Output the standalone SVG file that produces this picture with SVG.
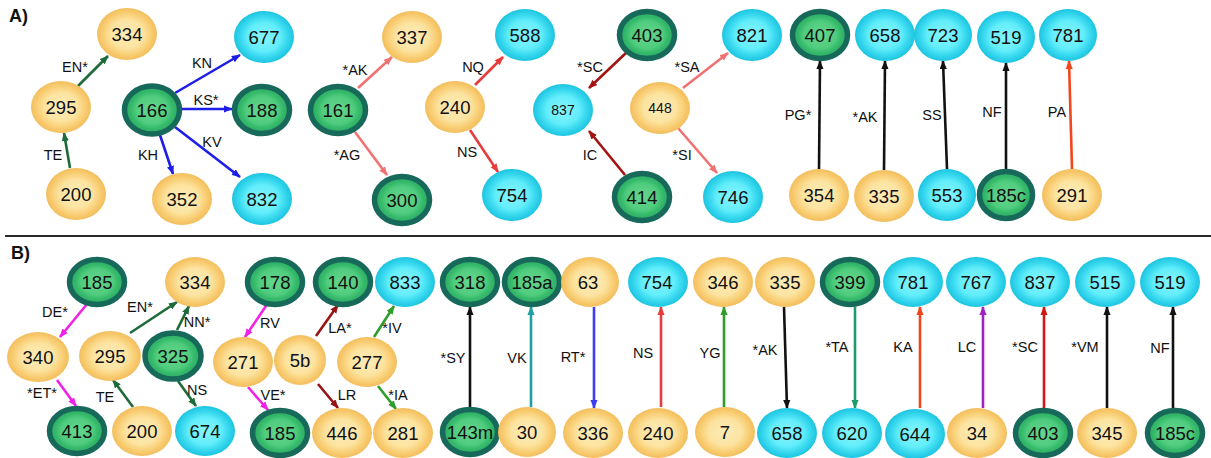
<svg xmlns="http://www.w3.org/2000/svg" width="1211" height="458" viewBox="0 0 1211 458">
  <defs>
    <radialGradient id="gy" cx="50%" cy="50%" r="50%">
      <stop offset="0" stop-color="#FDECB8"/>
      <stop offset="0.55" stop-color="#FCE3A0"/>
      <stop offset="0.72" stop-color="#FAD582"/>
      <stop offset="0.86" stop-color="#F7C96C"/>
      <stop offset="1" stop-color="#F3BE5E"/>
    </radialGradient>
    <radialGradient id="gc" cx="50%" cy="50%" r="50%">
      <stop offset="0" stop-color="#86F5FC"/>
      <stop offset="0.55" stop-color="#62EDFA"/>
      <stop offset="0.74" stop-color="#3EDCF1"/>
      <stop offset="1" stop-color="#1CC4E0"/>
    </radialGradient>
    <radialGradient id="gg" cx="50%" cy="50%" r="50%">
      <stop offset="0" stop-color="#66D68E"/>
      <stop offset="0.58" stop-color="#50CC7E"/>
      <stop offset="0.76" stop-color="#36BA6B"/>
      <stop offset="1" stop-color="#2BA963"/>
    </radialGradient>
    <marker id="m-dg" viewBox="0 0 10 8" refX="9" refY="4" markerWidth="9" markerHeight="7.5" markerUnits="userSpaceOnUse" orient="auto"><path d="M0,0L10,4L0,8z" fill="#1E6B3A"/></marker>
    <marker id="m-bl" viewBox="0 0 10 8" refX="9" refY="4" markerWidth="9" markerHeight="7.5" markerUnits="userSpaceOnUse" orient="auto"><path d="M0,0L10,4L0,8z" fill="#1E1EE6"/></marker>
    <marker id="m-sa" viewBox="0 0 10 8" refX="9" refY="4" markerWidth="9" markerHeight="7.5" markerUnits="userSpaceOnUse" orient="auto"><path d="M0,0L10,4L0,8z" fill="#F07272"/></marker>
    <marker id="m-rd" viewBox="0 0 10 8" refX="9" refY="4" markerWidth="9" markerHeight="7.5" markerUnits="userSpaceOnUse" orient="auto"><path d="M0,0L10,4L0,8z" fill="#E83C3C"/></marker>
    <marker id="m-dr" viewBox="0 0 10 8" refX="9" refY="4" markerWidth="9" markerHeight="7.5" markerUnits="userSpaceOnUse" orient="auto"><path d="M0,0L10,4L0,8z" fill="#A51212"/></marker>
    <marker id="m-k" viewBox="0 0 10 8" refX="9" refY="4" markerWidth="9" markerHeight="7.5" markerUnits="userSpaceOnUse" orient="auto"><path d="M0,0L10,4L0,8z" fill="#111"/></marker>
    <marker id="m-or" viewBox="0 0 10 8" refX="9" refY="4" markerWidth="9" markerHeight="7.5" markerUnits="userSpaceOnUse" orient="auto"><path d="M0,0L10,4L0,8z" fill="#F2461E"/></marker>
    <marker id="m-mg" viewBox="0 0 10 8" refX="9" refY="4" markerWidth="9" markerHeight="7.5" markerUnits="userSpaceOnUse" orient="auto"><path d="M0,0L10,4L0,8z" fill="#F022E6"/></marker>
    <marker id="m-mr" viewBox="0 0 10 8" refX="9" refY="4" markerWidth="9" markerHeight="7.5" markerUnits="userSpaceOnUse" orient="auto"><path d="M0,0L10,4L0,8z" fill="#961414"/></marker>
    <marker id="m-gr" viewBox="0 0 10 8" refX="9" refY="4" markerWidth="9" markerHeight="7.5" markerUnits="userSpaceOnUse" orient="auto"><path d="M0,0L10,4L0,8z" fill="#2E9E2A"/></marker>
    <marker id="m-tl" viewBox="0 0 10 8" refX="9" refY="4" markerWidth="9" markerHeight="7.5" markerUnits="userSpaceOnUse" orient="auto"><path d="M0,0L10,4L0,8z" fill="#1E9FA2"/></marker>
    <marker id="m-b2" viewBox="0 0 10 8" refX="9" refY="4" markerWidth="9" markerHeight="7.5" markerUnits="userSpaceOnUse" orient="auto"><path d="M0,0L10,4L0,8z" fill="#3C3CF0"/></marker>
    <marker id="m-tg" viewBox="0 0 10 8" refX="9" refY="4" markerWidth="9" markerHeight="7.5" markerUnits="userSpaceOnUse" orient="auto"><path d="M0,0L10,4L0,8z" fill="#1E9A6C"/></marker>
    <marker id="m-pu" viewBox="0 0 10 8" refX="9" refY="4" markerWidth="9" markerHeight="7.5" markerUnits="userSpaceOnUse" orient="auto"><path d="M0,0L10,4L0,8z" fill="#A020C4"/></marker>
    <marker id="m-r2" viewBox="0 0 10 8" refX="9" refY="4" markerWidth="9" markerHeight="7.5" markerUnits="userSpaceOnUse" orient="auto"><path d="M0,0L10,4L0,8z" fill="#D01818"/></marker>
  </defs>
  <style>
    .ny { fill: url(#gy); }
    .nc { fill: url(#gc); }
    .ng { fill: url(#gg); stroke: #17695A; stroke-width: 5.5; }
    .t { font-family: "Liberation Sans", Arial, sans-serif; font-size: 18.5px; text-anchor: middle; fill: #111; }
    .ts { font-size: 14px; }
    .l { font-family: "Liberation Sans", Arial, sans-serif; font-size: 14.5px; text-anchor: middle; fill: #111; }
    .h { font-family: "Liberation Sans", Arial, sans-serif; font-size: 18px; font-weight: bold; fill: #111; }
    .e { fill: none; stroke-width: 2.6; }
    .dg { stroke: #1E6B3A; marker-end: url(#m-dg); }
    .bl { stroke: #1E1EE6; marker-end: url(#m-bl); }
    .sa { stroke: #F07272; marker-end: url(#m-sa); }
    .rd { stroke: #E83C3C; marker-end: url(#m-rd); }
    .dr { stroke: #A51212; marker-end: url(#m-dr); }
    .k { stroke: #111; marker-end: url(#m-k); }
    .or { stroke: #F2461E; marker-end: url(#m-or); }
    .mg { stroke: #F022E6; marker-end: url(#m-mg); }
    .mr { stroke: #961414; marker-end: url(#m-mr); }
    .gr { stroke: #2E9E2A; marker-end: url(#m-gr); }
    .tl { stroke: #1E9FA2; marker-end: url(#m-tl); }
    .b2 { stroke: #3C3CF0; marker-end: url(#m-b2); }
    .tg { stroke: #1E9A6C; marker-end: url(#m-tg); }
    .pu { stroke: #A020C4; marker-end: url(#m-pu); }
    .r2 { stroke: #D01818; marker-end: url(#m-r2); }
  </style>

  <rect width="1211" height="458" fill="#fff"/>

  <!-- panel headings and divider -->
  <text class="h" x="9" y="22">A)</text>
  <text class="h" x="11" y="259">B)</text>
  <line x1="5" y1="236" x2="1211" y2="236" stroke="#2a2a2a" stroke-width="2"/>

  <!-- connectors -->
  <g id="connectors">
    <!-- panel A -->
    <line class="e dg" x1="70" y1="168" x2="64" y2="133"/>
    <line class="e dg" x1="78" y1="86" x2="108" y2="56"/>
    <line class="e bl" x1="175" y1="93" x2="240" y2="55"/>
    <line class="e bl" x1="182" y1="109" x2="232" y2="109"/>
    <line class="e bl" x1="175" y1="127" x2="240" y2="177"/>
    <line class="e bl" x1="160" y1="135" x2="173" y2="174"/>
    <line class="e sa" x1="358" y1="88" x2="392" y2="57"/>
    <line class="e sa" x1="355" y1="132" x2="387" y2="175"/>
    <line class="e rd" x1="475" y1="85" x2="503" y2="57"/>
    <line class="e rd" x1="470" y1="130" x2="498" y2="172"/>
    <line class="e dr" x1="627" y1="52" x2="589" y2="88"/>
    <line class="e dr" x1="625" y1="175" x2="589" y2="131"/>
    <line class="e sa" x1="683" y1="88" x2="728" y2="53"/>
    <line class="e sa" x1="678" y1="128" x2="717" y2="173"/>
    <line class="e k" x1="819" y1="169" x2="820" y2="61"/>
    <line class="e k" x1="884" y1="170" x2="885" y2="61"/>
    <line class="e k" x1="947" y1="169" x2="943" y2="61"/>
    <line class="e k" x1="1006" y1="169" x2="1006" y2="63"/>
    <line class="e or" x1="1072" y1="169" x2="1069" y2="61"/>
    <!-- panel B -->
    <line class="e mg" x1="87" y1="304" x2="60" y2="337"/>
    <line class="e mg" x1="57" y1="380" x2="76" y2="406"/>
    <line class="e dg" x1="130" y1="333" x2="177" y2="302"/>
    <line class="e dg" x1="177" y1="330" x2="189" y2="306"/>
    <line class="e dg" x1="133" y1="407" x2="113" y2="380"/>
    <line class="e dg" x1="178" y1="381" x2="196" y2="406"/>
    <line class="e mg" x1="268" y1="303" x2="245" y2="337"/>
    <line class="e mg" x1="248" y1="387" x2="268" y2="410"/>
    <line class="e mr" x1="316" y1="336" x2="338" y2="305"/>
    <line class="e mr" x1="318" y1="384" x2="338" y2="408"/>
    <line class="e gr" x1="374" y1="337" x2="394" y2="306"/>
    <line class="e gr" x1="378" y1="386" x2="396" y2="409"/>
    <line class="e k" x1="470" y1="407" x2="470" y2="307"/>
    <line class="e tl" x1="531" y1="407" x2="531" y2="307"/>
    <line class="e b2" x1="594" y1="307" x2="594" y2="408"/>
    <line class="e rd" x1="661" y1="407" x2="661" y2="307"/>
    <line class="e gr" x1="724" y1="407" x2="724" y2="307"/>
    <line class="e k" x1="784" y1="307" x2="787" y2="408"/>
    <line class="e tg" x1="855" y1="307" x2="855" y2="408"/>
    <line class="e or" x1="920" y1="408" x2="920" y2="307"/>
    <line class="e pu" x1="983" y1="408" x2="983" y2="307"/>
    <line class="e r2" x1="1044" y1="408" x2="1044" y2="307"/>
    <line class="e k" x1="1107" y1="408" x2="1107" y2="307"/>
    <line class="e k" x1="1173" y1="408" x2="1173" y2="307"/>
  </g>

  <!-- connector labels -->
  <g id="connector-labels">
    <text class="l" x="75" y="72">EN*</text>
    <text class="l" x="53" y="160">TE</text>
    <text class="l" x="202" y="68">KN</text>
    <text class="l" x="206" y="105">KS*</text>
    <text class="l" x="212" y="147">KV</text>
    <text class="l" x="148" y="160">KH</text>
    <text class="l" x="355" y="75">*AK</text>
    <text class="l" x="347" y="160">*AG</text>
    <text class="l" x="473" y="72">NQ</text>
    <text class="l" x="467" y="157">NS</text>
    <text class="l" x="590" y="72">*SC</text>
    <text class="l" x="590" y="160">IC</text>
    <text class="l" x="687" y="72">*SA</text>
    <text class="l" x="682" y="160">*SI</text>
    <text class="l" x="798" y="120">PG*</text>
    <text class="l" x="865" y="122">*AK</text>
    <text class="l" x="932" y="120">SS</text>
    <text class="l" x="992" y="117">NF</text>
    <text class="l" x="1057" y="117">PA</text>

    <text class="l" x="55" y="317">DE*</text>
    <text class="l" x="140" y="312">EN*</text>
    <text class="l" x="197" y="327">NN*</text>
    <text class="l" x="42" y="398">*ET*</text>
    <text class="l" x="105" y="402">TE</text>
    <text class="l" x="197" y="395">NS</text>
    <text class="l" x="270" y="328">RV</text>
    <text class="l" x="273" y="400">VE*</text>
    <text class="l" x="340" y="333">LA*</text>
    <text class="l" x="347" y="400">LR</text>
    <text class="l" x="392" y="333">*IV</text>
    <text class="l" x="398" y="400">*IA</text>
    <text class="l" x="453" y="363">*SY</text>
    <text class="l" x="517" y="363">VK</text>
    <text class="l" x="573" y="362">RT*</text>
    <text class="l" x="643" y="358">NS</text>
    <text class="l" x="710" y="358">YG</text>
    <text class="l" x="765" y="355">*AK</text>
    <text class="l" x="837" y="352">*TA</text>
    <text class="l" x="903" y="352">KA</text>
    <text class="l" x="967" y="352">LC</text>
    <text class="l" x="1025" y="352">*SC</text>
    <text class="l" x="1085" y="352">*VM</text>
    <text class="l" x="1160" y="353">NF</text>
  </g>

  <!-- panel A nodes -->
  <g id="a-334"><ellipse class="ny" cx="127" cy="34" rx="30" ry="26"/><text class="t" x="127" y="41">334</text></g>
  <g id="a-295"><ellipse class="ny" cx="61" cy="107" rx="30" ry="26"/><text class="t" x="61" y="114">295</text></g>
  <g id="a-200"><ellipse class="ny" cx="76" cy="194" rx="30" ry="26"/><text class="t" x="76" y="201">200</text></g>
  <g id="a-166"><ellipse class="ng" cx="152" cy="110" rx="27.5" ry="24"/><text class="t" x="152" y="117">166</text></g>
  <g id="a-677"><ellipse class="nc" cx="264" cy="37" rx="30" ry="26"/><text class="t" x="264" y="44">677</text></g>
  <g id="a-188"><ellipse class="ng" cx="262" cy="110" rx="27.5" ry="23.5"/><text class="t" x="262" y="117">188</text></g>
  <g id="a-352"><ellipse class="ny" cx="182" cy="199" rx="30" ry="26"/><text class="t" x="182" y="206">352</text></g>
  <g id="a-832"><ellipse class="nc" cx="262" cy="199" rx="30" ry="26"/><text class="t" x="262" y="206">832</text></g>
  <g id="a-161"><ellipse class="ng" cx="338" cy="110" rx="27.5" ry="23.5"/><text class="t" x="338" y="117">161</text></g>
  <g id="a-337"><ellipse class="ny" cx="412" cy="37" rx="30" ry="26"/><text class="t" x="412" y="44">337</text></g>
  <g id="a-300"><ellipse class="ng" cx="402" cy="200" rx="27.5" ry="23.5"/><text class="t" x="402" y="207">300</text></g>
  <g id="a-240"><ellipse class="ny" cx="455" cy="107" rx="30" ry="26"/><text class="t" x="455" y="114">240</text></g>
  <g id="a-588"><ellipse class="nc" cx="525" cy="35" rx="30" ry="26"/><text class="t" x="525" y="42">588</text></g>
  <g id="a-754"><ellipse class="nc" cx="512" cy="195" rx="30" ry="26"/><text class="t" x="512" y="202">754</text></g>
  <g id="a-837"><ellipse class="nc" cx="563" cy="110" rx="30" ry="26"/><text class="t ts" x="563" y="115">837</text></g>
  <g id="a-403"><ellipse class="ng" cx="647" cy="35" rx="27.5" ry="23.5"/><text class="t" x="647" y="42">403</text></g>
  <g id="a-448"><ellipse class="ny" cx="660" cy="108" rx="30" ry="26"/><text class="t ts" x="660" y="113">448</text></g>
  <g id="a-821"><ellipse class="nc" cx="752" cy="35" rx="30" ry="26"/><text class="t" x="752" y="42">821</text></g>
  <g id="a-414"><ellipse class="ng" cx="642" cy="197" rx="27.5" ry="23.5"/><text class="t" x="642" y="204">414</text></g>
  <g id="a-746"><ellipse class="nc" cx="733" cy="197" rx="30" ry="26"/><text class="t" x="733" y="204">746</text></g>
  <g id="a-407"><ellipse class="ng" cx="820" cy="35" rx="27.5" ry="23.5"/><text class="t" x="820" y="42">407</text></g>
  <g id="a-658"><ellipse class="nc" cx="885" cy="35" rx="30" ry="26"/><text class="t" x="885" y="42">658</text></g>
  <g id="a-723"><ellipse class="nc" cx="943" cy="35" rx="29" ry="26"/><text class="t" x="943" y="42">723</text></g>
  <g id="a-519"><ellipse class="nc" cx="1006" cy="37" rx="29" ry="26"/><text class="t" x="1006" y="44">519</text></g>
  <g id="a-781"><ellipse class="nc" cx="1068" cy="35" rx="29" ry="26"/><text class="t" x="1068" y="42">781</text></g>
  <g id="a-354"><ellipse class="ny" cx="819" cy="195" rx="30" ry="26"/><text class="t" x="819" y="202">354</text></g>
  <g id="a-335"><ellipse class="ny" cx="884" cy="196" rx="30" ry="26"/><text class="t" x="884" y="203">335</text></g>
  <g id="a-553"><ellipse class="nc" cx="947" cy="195" rx="29" ry="26"/><text class="t" x="947" y="202">553</text></g>
  <g id="a-185c"><ellipse class="ng" cx="1006" cy="195" rx="26.5" ry="23.5"/><text class="t" x="1006" y="202">185c</text></g>
  <g id="a-291"><ellipse class="ny" cx="1072" cy="195" rx="30" ry="26"/><text class="t" x="1072" y="202">291</text></g>

  <!-- panel B nodes: top row -->
  <g id="b-185-top"><ellipse class="ng" cx="97" cy="282" rx="27.5" ry="22.5"/><text class="t" x="97" y="289">185</text></g>
  <g id="b-334"><ellipse class="ny" cx="195" cy="282" rx="30" ry="25"/><text class="t" x="195" y="289">334</text></g>
  <g id="b-178"><ellipse class="ng" cx="275" cy="282" rx="27.5" ry="22.5"/><text class="t" x="275" y="289">178</text></g>
  <g id="b-140"><ellipse class="ng" cx="343" cy="282" rx="27.5" ry="22.5"/><text class="t" x="343" y="289">140</text></g>
  <g id="b-833"><ellipse class="nc" cx="405" cy="282" rx="30" ry="25"/><text class="t" x="405" y="289">833</text></g>
  <g id="b-318"><ellipse class="ng" cx="470" cy="282" rx="27.5" ry="22.5"/><text class="t" x="470" y="289">318</text></g>
  <g id="b-185a"><ellipse class="ng" cx="532" cy="282" rx="27.5" ry="22.5"/><text class="t" x="532" y="289">185a</text></g>
  <g id="b-63"><ellipse class="ny" cx="590" cy="282" rx="29" ry="25"/><text class="t" x="588" y="289">63</text></g>
  <g id="b-754"><ellipse class="nc" cx="658" cy="282" rx="30" ry="25"/><text class="t" x="657" y="289">754</text></g>
  <g id="b-346"><ellipse class="ny" cx="723" cy="282" rx="30" ry="25"/><text class="t" x="723" y="289">346</text></g>
  <g id="b-335"><ellipse class="ny" cx="785" cy="282" rx="30" ry="25"/><text class="t" x="785" y="289">335</text></g>
  <g id="b-399"><ellipse class="ng" cx="850" cy="282" rx="27.5" ry="22.5"/><text class="t" x="850" y="289">399</text></g>
  <g id="b-781"><ellipse class="nc" cx="913" cy="282" rx="30" ry="25"/><text class="t" x="913" y="289">781</text></g>
  <g id="b-767"><ellipse class="nc" cx="976" cy="282" rx="30" ry="25"/><text class="t" x="976" y="289">767</text></g>
  <g id="b-837"><ellipse class="nc" cx="1040" cy="282" rx="30" ry="25"/><text class="t" x="1040" y="289">837</text></g>
  <g id="b-515"><ellipse class="nc" cx="1105" cy="282" rx="30" ry="25"/><text class="t" x="1105" y="289">515</text></g>
  <g id="b-519"><ellipse class="nc" cx="1170" cy="282" rx="30" ry="25"/><text class="t" x="1170" y="289">519</text></g>

  <!-- panel B nodes: middle row -->
  <g id="b-340"><ellipse class="ny" cx="38" cy="357" rx="31" ry="25"/><text class="t" x="38" y="364">340</text></g>
  <g id="b-295"><ellipse class="ny" cx="110" cy="356" rx="31" ry="25"/><text class="t" x="110" y="363">295</text></g>
  <g id="b-325"><ellipse class="ng" cx="173" cy="356" rx="28" ry="23"/><text class="t" x="173" y="363">325</text></g>
  <g id="b-271"><ellipse class="ny" cx="243" cy="362" rx="30" ry="25"/><text class="t" x="243" y="369">271</text></g>
  <g id="b-5b"><ellipse class="ny" cx="300" cy="360" rx="26" ry="25"/><text class="t" x="300" y="367">5b</text></g>
  <g id="b-277"><ellipse class="ny" cx="367" cy="362" rx="30" ry="25"/><text class="t" x="367" y="369">277</text></g>

  <!-- panel B nodes: bottom row -->
  <g id="b-413"><ellipse class="ng" cx="77" cy="431" rx="27.5" ry="22.5"/><text class="t" x="77" y="438">413</text></g>
  <g id="b-200"><ellipse class="ny" cx="142" cy="431" rx="30" ry="25"/><text class="t" x="142" y="438">200</text></g>
  <g id="b-674"><ellipse class="nc" cx="205" cy="431" rx="30" ry="25"/><text class="t" x="205" y="438">674</text></g>
  <g id="b-185-bottom"><ellipse class="ng" cx="280" cy="433" rx="27.5" ry="22.5"/><text class="t" x="280" y="440">185</text></g>
  <g id="b-446"><ellipse class="ny" cx="342" cy="433" rx="30" ry="25"/><text class="t" x="342" y="440">446</text></g>
  <g id="b-281"><ellipse class="ny" cx="403" cy="433" rx="30" ry="25"/><text class="t" x="403" y="440">281</text></g>
  <g id="b-143m"><ellipse class="ng" cx="470" cy="432" rx="27.5" ry="22.5"/><text class="t" x="470" y="439">143m</text></g>
  <g id="b-30"><ellipse class="ny" cx="527" cy="432" rx="29" ry="25"/><text class="t" x="527" y="439">30</text></g>
  <g id="b-336"><ellipse class="ny" cx="593" cy="433" rx="30" ry="25"/><text class="t" x="593" y="440">336</text></g>
  <g id="b-240"><ellipse class="ny" cx="658" cy="433" rx="30" ry="25"/><text class="t" x="658" y="440">240</text></g>
  <g id="b-7"><ellipse class="ny" cx="725" cy="432" rx="30" ry="25"/><text class="t" x="725" y="439">7</text></g>
  <g id="b-658"><ellipse class="nc" cx="787" cy="433" rx="30" ry="25"/><text class="t" x="787" y="440">658</text></g>
  <g id="b-620"><ellipse class="nc" cx="852" cy="433" rx="30" ry="25"/><text class="t" x="852" y="440">620</text></g>
  <g id="b-644"><ellipse class="nc" cx="915" cy="434" rx="30" ry="25"/><text class="t" x="915" y="441">644</text></g>
  <g id="b-34"><ellipse class="ny" cx="977" cy="433" rx="30" ry="25"/><text class="t" x="977" y="440">34</text></g>
  <g id="b-403"><ellipse class="ng" cx="1043" cy="433" rx="27.5" ry="22.5"/><text class="t" x="1043" y="440">403</text></g>
  <g id="b-345"><ellipse class="ny" cx="1107" cy="433" rx="30" ry="25"/><text class="t" x="1107" y="440">345</text></g>
  <g id="b-185c"><ellipse class="ng" cx="1175" cy="433" rx="27.5" ry="22.5"/><text class="t" x="1175" y="440">185c</text></g>
</svg>
